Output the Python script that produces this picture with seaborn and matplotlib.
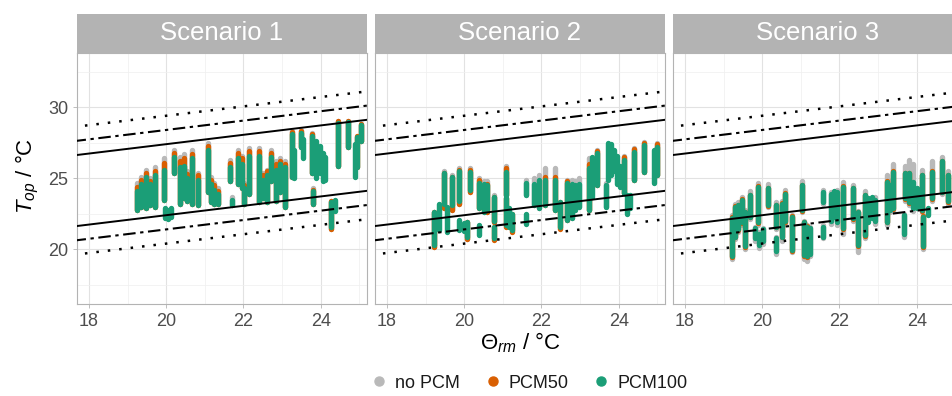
import matplotlib
matplotlib.use("Agg")
import matplotlib.pyplot as plt
import pandas as pd
import seaborn as sns
from matplotlib.lines import Line2D
from matplotlib.patches import Rectangle

# ---------------- data ----------------
scenarios = ["Scenario 1", "Scenario 2", "Scenario 3"]
cases = ["no PCM", "PCM50", "PCM100"]
case_colors = ["#B9B9B9", "#D95F02", "#1B9E77"]

x_ticks = [18, 20, 22, 24]
y_ticks = [20, 25, 30]
x_minor = [19, 21, 23, 25]
y_minor = [17.5, 22.5, 27.5, 32.5]

# comfort limit lines, values at both ends of the Θrm axis
theta_ends = [17.6, 25.3]
cat1_upper = [26.61, 29.15]
cat1_lower = [21.61, 24.15]
cat2_upper = [27.61, 30.15]
cat2_lower = [20.61, 23.15]
cat3_upper = [28.61, 31.15]
cat3_lower = [19.61, 22.15]

# streaks of hourly points: (Θrm, lowest Top, highest Top)
s1_pcm100 = [(19.25, 22.8, 24.1), (19.36, 23.0, 24.6), (19.47, 22.9, 25.1), (19.58, 23.1, 24.6),
             (19.72, 23.0, 25.2), (19.95, 23.5, 25.6), (19.98, 22.2, 22.9), (20.05, 22.1, 22.8),
             (20.12, 22.3, 22.9), (20.2, 25.35, 26.5), (20.35, 23.2, 25.8), (20.45, 23.6, 25.9),
             (20.55, 23.4, 25.0), (20.66, 23.2, 26.4), (20.82, 23.1, 24.9), (21.08, 24.0, 27.0),
             (21.15, 23.3, 24.6), (21.25, 23.2, 24.2), (21.33, 23.2, 23.9), (21.65, 24.8, 25.8),
             (21.7, 23.1, 23.5), (21.85, 24.6, 26.4), (21.95, 24.3, 26.0), (22.02, 23.2, 24.3),
             (22.15, 23.9, 26.6), (22.4, 23.3, 26.6), (22.5, 23.6, 24.9), (22.6, 23.3, 25.2),
             (22.72, 24.8, 26.5), (22.85, 23.4, 25.6), (22.95, 24.0, 26.0), (23.07, 23.0, 25.8),
             (23.25, 25.1, 28.1), (23.32, 25.0, 27.0), (23.5, 27.2, 28.2), (23.55, 26.4, 27.8),
             (23.77, 25.35, 28.0), (23.8, 23.2, 24.1), (23.88, 25.0, 27.6), (23.97, 25.4, 27.3),
             (24.05, 24.8, 26.8), (24.12, 24.9, 26.5), (24.27, 21.6, 23.3), (24.38, 22.7, 23.5),
             (24.45, 25.9, 28.9), (24.72, 27.2, 28.95), (24.9, 25.1, 27.4), (24.95, 25.8, 27.9),
             (25.05, 27.6, 28.75)]
s1_pcm50 = [(19.25, 22.8, 24.4), (19.36, 23.0, 24.9), (19.47, 22.9, 25.4), (19.58, 23.1, 24.8),
            (19.72, 23.0, 25.5), (19.95, 23.5, 26.1), (20.2, 25.35, 26.8), (20.35, 23.2, 26.2),
            (20.45, 23.6, 26.4), (20.55, 23.4, 25.3), (20.66, 23.2, 26.7), (20.82, 23.1, 25.2),
            (21.08, 24.0, 27.3), (21.15, 23.3, 24.9), (21.25, 23.2, 24.5), (21.33, 23.2, 24.1),
            (21.65, 24.8, 26.1), (21.85, 24.6, 26.8), (21.95, 24.3, 26.4), (22.02, 23.2, 24.5),
            (22.15, 23.9, 26.9), (22.4, 23.3, 26.9), (22.5, 23.6, 25.2), (22.6, 23.3, 25.5),
            (22.72, 24.8, 26.8), (22.85, 23.4, 26.0), (22.95, 24.0, 26.2), (23.07, 23.0, 26.0),
            (23.25, 25.1, 28.25), (23.5, 27.2, 28.35), (23.77, 25.35, 28.1), (23.8, 23.2, 24.2),
            (24.27, 21.45, 23.4), (24.45, 25.9, 29.0), (24.72, 27.2, 29.05), (24.95, 25.8, 28.0),
            (25.05, 27.6, 28.85)]
s1_nopcm = [(19.25, 22.8, 24.65), (19.36, 23.0, 25.1), (19.47, 22.9, 25.6), (19.58, 23.1, 25.0),
            (19.72, 23.0, 25.8), (19.95, 23.5, 26.4), (20.2, 25.35, 27.0), (20.35, 23.2, 26.5),
            (20.45, 23.6, 26.7), (20.55, 23.4, 25.5), (20.66, 23.2, 27.0), (20.82, 23.1, 25.4),
            (21.08, 24.0, 27.5), (21.15, 23.3, 25.1), (21.25, 23.2, 24.7), (21.33, 23.2, 24.3),
            (21.65, 24.8, 26.3), (21.7, 23.1, 23.7), (21.85, 24.6, 27.0), (21.95, 24.3, 26.6),
            (22.02, 23.2, 24.7), (22.15, 23.9, 27.1), (22.4, 23.3, 27.1), (22.5, 23.6, 25.4),
            (22.6, 23.3, 25.6), (22.72, 24.8, 27.0), (22.85, 23.4, 26.2), (22.95, 24.0, 26.4),
            (23.07, 23.0, 26.2), (23.25, 25.1, 28.35), (23.5, 27.2, 28.4), (23.77, 25.35, 28.2),
            (23.8, 23.2, 24.3), (24.27, 21.4, 23.4), (24.45, 25.9, 29.0), (24.72, 27.2, 29.05),
            (25.05, 27.6, 28.85)]

s2_pcm100 = [(19.21, 20.3, 22.65), (19.34, 21.36, 23.2), (19.47, 23.2, 25.35), (19.56, 21.24, 23.0),
             (19.69, 23.1, 25.1), (19.86, 23.4, 25.5), (19.86, 21.36, 22.05), (19.99, 21.3, 21.85),
             (20.07, 20.9, 21.9), (20.16, 24.17, 25.47), (20.38, 22.9, 24.65), (20.38, 21.0, 21.7),
             (20.5, 22.6, 24.6), (20.59, 22.77, 24.5), (20.76, 22.0, 23.7), (20.76, 20.77, 21.6),
             (21.07, 23.8, 25.47), (21.07, 21.7, 23.6), (21.15, 21.6, 22.9), (21.24, 21.36, 22.5),
             (21.6, 23.8, 24.65), (21.6, 21.8, 22.5), (21.8, 23.1, 24.6), (21.93, 22.9, 24.9),
             (22.1, 23.1, 24.9), (22.36, 22.77, 24.88), (22.49, 21.6, 23.35), (22.66, 22.06, 24.65),
             (22.79, 22.2, 24.6), (22.88, 22.8, 24.5), (22.97, 23.0, 24.6), (23.23, 22.77, 25.7),
             (23.31, 23.7, 26.5), (23.44, 24.5, 26.76), (23.66, 23.0, 24.5), (23.72, 24.9, 27.46),
             (23.8, 25.2, 27.4), (23.88, 25.5, 27.0), (23.95, 24.6, 26.6), (24.03, 24.4, 25.9),
             (24.13, 23.94, 26.3), (24.22, 22.5, 23.8), (24.3, 22.9, 23.8), (24.41, 24.88, 26.87),
             (24.65, 25.47, 27.34), (24.91, 24.64, 26.99), (25.0, 25.2, 27.2)]
s2_pcm50 = [(19.21, 20.15, 22.65), (19.47, 22.9, 25.35), (19.69, 22.8, 25.1), (19.86, 23.2, 25.6),
            (20.07, 20.75, 21.9), (20.16, 24.0, 25.6), (20.38, 22.9, 24.85), (20.59, 22.6, 24.6),
            (20.76, 21.9, 23.7), (20.76, 20.65, 21.6), (21.07, 23.8, 25.7), (21.07, 21.55, 23.6),
            (21.24, 21.2, 22.5), (22.1, 23.1, 25.1), (22.36, 22.77, 25.1), (22.49, 21.45, 23.35),
            (22.66, 22.06, 24.8), (23.23, 22.77, 26.0), (23.44, 24.5, 26.9), (24.13, 23.94, 26.5),
            (24.41, 24.88, 27.05), (24.65, 25.47, 27.5), (25.0, 25.2, 27.4)]
s2_nopcm = [(19.21, 20.15, 22.65), (19.47, 22.9, 25.5), (19.69, 22.8, 25.25), (19.86, 23.2, 25.7),
            (20.07, 20.75, 21.9), (20.16, 24.0, 25.7), (20.38, 22.9, 25.0), (20.5, 22.6, 24.8),
            (20.59, 22.6, 24.8), (20.76, 21.9, 23.8), (21.07, 23.8, 25.9), (21.6, 23.8, 24.9),
            (21.8, 23.1, 25.0), (21.93, 22.9, 25.2), (22.1, 23.1, 25.7), (22.36, 22.77, 25.7),
            (22.66, 22.06, 24.9), (22.79, 22.2, 24.9), (22.88, 22.8, 24.8), (22.97, 23.0, 25.0),
            (23.23, 22.77, 26.4), (23.44, 24.5, 27.0), (23.66, 23.0, 24.65), (24.13, 23.94, 26.6),
            (24.41, 24.88, 27.1), (24.65, 25.47, 27.55), (25.0, 25.2, 27.45)]

s3_pcm100 = [(19.21, 19.5, 22.2), (19.29, 20.9, 23.0), (19.38, 21.4, 23.1), (19.47, 21.9, 23.5),
             (19.55, 20.2, 22.6), (19.68, 22.3, 23.8), (19.81, 20.8, 21.5), (19.9, 21.9, 24.4),
             (19.92, 20.3, 21.1), (20.03, 20.6, 21.4), (20.16, 23.1, 24.3), (20.37, 21.6, 23.1),
             (20.37, 19.85, 20.8), (20.5, 20.9, 23.2), (20.59, 22.0, 23.9), (20.76, 19.95, 22.3),
             (21.02, 22.76, 24.5), (21.08, 19.6, 21.9), (21.15, 19.5, 21.6), (21.24, 19.7, 21.5),
             (21.58, 23.3, 24.0), (21.58, 20.9, 21.6), (21.78, 22.0, 23.9), (21.85, 22.3, 24.1),
             (21.93, 21.9, 24.0), (22.1, 21.5, 24.4), (22.36, 22.2, 24.3), (22.49, 20.3, 22.6),
             (22.66, 21.0, 23.8), (22.75, 21.9, 23.6), (22.85, 22.2, 23.7), (22.93, 22.0, 23.5),
             (23.22, 21.95, 24.76), (23.3, 22.8, 24.5), (23.4, 22.9, 25.47), (23.66, 21.1, 22.4),
             (23.7, 23.6, 25.35), (23.8, 23.3, 25.35), (23.9, 22.9, 24.76), (24.0, 22.9, 24.3),
             (24.13, 22.75, 25.2), (24.17, 20.2, 22.3), (24.3, 22.4, 22.9), (24.39, 23.6, 25.47),
             (24.65, 24.06, 26.2), (24.82, 23.4, 25.2)]
s3_pcm50 = [(19.21, 19.45, 22.25), (19.29, 20.85, 23.05), (19.38, 21.35, 23.15), (19.47, 21.85, 23.55),
            (19.55, 20.15, 22.65), (19.68, 22.25, 23.85), (19.9, 21.85, 24.45), (20.16, 23.05, 24.35),
            (20.37, 21.55, 23.15), (20.5, 20.85, 23.25), (20.59, 21.95, 23.95), (20.76, 19.9, 22.35),
            (21.02, 22.7, 24.55), (21.08, 19.55, 21.95), (21.15, 19.45, 21.65), (22.1, 21.45, 24.45),
            (22.36, 22.15, 24.35), (22.49, 20.25, 22.65), (22.66, 20.95, 23.85), (23.22, 21.9, 24.8),
            (23.4, 22.85, 25.5), (23.7, 23.55, 25.4), (23.8, 23.25, 25.4), (24.13, 22.7, 25.25),
            (24.17, 20.15, 22.35), (24.39, 23.55, 25.5), (24.65, 24.0, 26.25), (24.82, 23.35, 25.25)]
s3_nopcm = [(19.21, 19.3, 22.4), (19.29, 20.7, 23.2), (19.38, 21.2, 23.3), (19.47, 21.7, 23.7),
            (19.55, 20.0, 22.8), (19.68, 22.1, 24.1), (19.81, 20.6, 21.6), (19.9, 21.7, 24.65),
            (19.92, 20.1, 21.2), (20.03, 20.4, 21.5), (20.16, 23.0, 24.6), (20.37, 21.4, 23.3),
            (20.37, 19.7, 20.9), (20.5, 20.6, 23.4), (20.59, 21.8, 24.2), (20.76, 19.8, 22.4),
            (21.02, 22.6, 24.8), (21.08, 19.3, 22.0), (21.15, 19.2, 21.7), (21.24, 19.5, 21.6),
            (21.58, 23.2, 24.2), (21.58, 20.8, 21.7), (21.78, 21.8, 24.0), (21.93, 21.7, 24.2),
            (22.1, 21.1, 24.76), (22.36, 22.0, 24.5), (22.49, 19.8, 22.7), (22.66, 20.8, 24.1),
            (22.93, 21.8, 23.7), (23.22, 21.7, 25.2), (23.3, 22.6, 24.8), (23.4, 22.7, 26.0),
            (23.66, 20.9, 22.5), (23.7, 23.4, 25.9), (23.8, 23.1, 26.3), (23.9, 22.7, 26.0),
            (24.13, 22.6, 25.6), (24.17, 20.0, 22.4), (24.39, 23.4, 26.2), (24.65, 23.9, 26.5),
            (24.82, 23.2, 25.5)]

panel_series = {
    "Scenario 1": {"no PCM": s1_nopcm, "PCM50": s1_pcm50, "PCM100": s1_pcm100},
    "Scenario 2": {"no PCM": s2_nopcm, "PCM50": s2_pcm50, "PCM100": s2_pcm100},
    "Scenario 3": {"no PCM": s3_nopcm, "PCM50": s3_pcm50, "PCM100": s3_pcm100},
}

# ---------------- style ----------------
sns.set_theme(style="white")
plt.rcParams["font.family"] = ["Liberation Sans", "DejaVu Sans"]
plt.rcParams["mathtext.fontset"] = "custom"
plt.rcParams["mathtext.rm"] = "Liberation Sans"
plt.rcParams["mathtext.it"] = "Liberation Sans:italic"

W, H = 953, 396
fig = plt.figure(figsize=(W / 100, H / 100), dpi=100)

panel_left_px = [77, 375, 673]
panel_w_px = 290
panel_top_px, panel_bot_px = 53, 304
strip_h_px = 39

x_lim = (17.69, 25.2)
y_lim = (16.15, 33.82)


def streak_frame(streaks):
    rows = []
    for i, (x, lo, hi) in enumerate(streaks):
        rows.append({"sid": i, "x": x, "y": lo})
        rows.append({"sid": i, "x": x, "y": hi})
    return pd.DataFrame(rows)


for k, scen in enumerate(scenarios):
    ax = fig.add_axes([panel_left_px[k] / W, 1 - panel_bot_px / H,
                       panel_w_px / W, (panel_bot_px - panel_top_px) / H])
    # grid
    ax.set_xticks(x_ticks)
    ax.set_yticks(y_ticks)
    ax.set_xticks(x_minor, minor=True)
    ax.set_yticks(y_minor, minor=True)
    ax.grid(True, which="major", color="#E2E2E2", linewidth=0.8)
    ax.grid(True, which="minor", color="#EFEFEF", linewidth=0.5)
    ax.set_axisbelow(True)

    # data streaks
    for case, col in zip(cases, case_colors):
        df = streak_frame(panel_series[scen][case])
        sns.lineplot(data=df, x="x", y="y", units="sid", estimator=None, sort=False,
                     color=col, linewidth=3.9, solid_capstyle="round", legend=False,
                     ax=ax, zorder=2)

    # comfort limit lines
    for yv in (cat1_upper, cat1_lower):
        ax.plot(theta_ends, yv, color="black", linewidth=1.4, zorder=3)
    for yv in (cat2_upper, cat2_lower):
        ax.plot(theta_ends, yv, color="black", linewidth=1.5,
                linestyle=(0, (6, 2.2, 1.6, 2.2)), zorder=3)
    for yv in (cat3_upper, cat3_lower):
        ax.plot(theta_ends, yv, color="black", linewidth=1.8,
                linestyle=(0, (1, 3.6)), zorder=3)

    ax.set_xlim(*x_lim)
    ax.set_ylim(*y_lim)
    ax.set_xlabel("")
    ax.set_ylabel("")

    for sp in ax.spines.values():
        sp.set_color("#B3B3B3")
        sp.set_linewidth(0.8)

    ax.tick_params(axis="both", which="major", length=2.75, width=0.6, color="#B3B3B3",
                   labelcolor="#4D4D4D", labelsize=13, direction="out")
    ax.tick_params(axis="x", which="major", pad=3.5)
    ax.tick_params(axis="y", which="major", pad=3.5)
    ax.tick_params(which="minor", length=0)
    ax.tick_params(axis="x", bottom=True)
    if k == 0:
        ax.tick_params(axis="y", left=True)
    else:
        ax.tick_params(axis="y", left=False, labelleft=False)

    # facet strip
    sh = strip_h_px / (panel_bot_px - panel_top_px)
    ax.add_patch(Rectangle((0, 1), 1, sh, transform=ax.transAxes, clip_on=False,
                           facecolor="#B3B3B3", edgecolor="none", zorder=5))
    ax.text(0.5, 1 + sh / 2, scen, transform=ax.transAxes, ha="center", va="center",
            color="white", fontsize=18.5, zorder=6)

# axis titles
fig.text(27 / W, 1 - 176 / H, r"$T_{op}$ / °C", rotation=90, ha="center", va="center",
         fontsize=16, color="black")
fig.text(520 / W, 1 - 343 / H, r"$\Theta_{rm}$ / °C", ha="center", va="center",
         fontsize=16, color="black")

# legend
handles = [Line2D([], [], marker="o", linestyle="", color=c, markersize=6.5) for c in case_colors]
fig.legend(handles, cases, loc="center", bbox_to_anchor=(528 / W, 1 - 383 / H), ncol=3,
           frameon=False, fontsize=13, handletextpad=0.3, columnspacing=1.2,
           handlelength=1.2, labelcolor="#1A1A1A")

fig.savefig("out.png", dpi=100)
